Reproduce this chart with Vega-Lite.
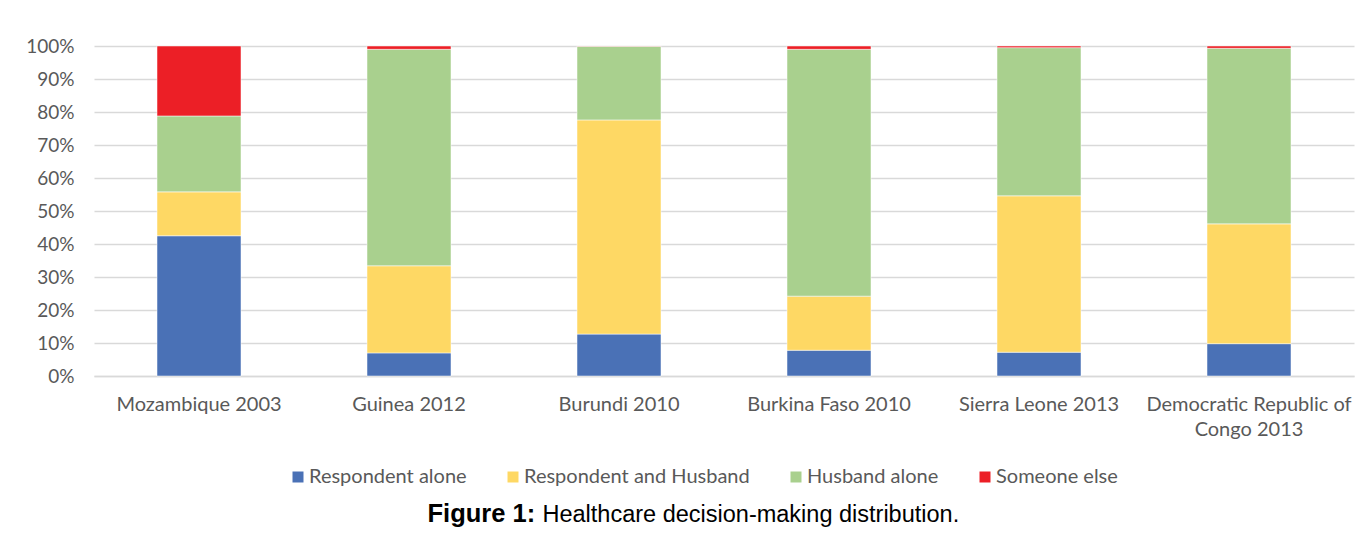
{
  "$schema": "https://vega.github.io/schema/vega-lite/v6.json",
  "width": 1260,
  "height": 330,
  "autosize": "none",
  "padding": {"left": 94, "top": 46, "right": 8, "bottom": 159},
  "background": "white",
  "config": {"font": "Lato", "view": {"stroke": null}},
  "data": {
    "values": [
      {"country": "Mozambique 2003", "decision": "Respondent alone", "pct": 42.5},
      {"country": "Mozambique 2003", "decision": "Respondent and Husband", "pct": 13.3},
      {"country": "Mozambique 2003", "decision": "Husband alone", "pct": 23.0},
      {"country": "Mozambique 2003", "decision": "Someone else", "pct": 21.2},
      {"country": "Guinea 2012", "decision": "Respondent alone", "pct": 7.0},
      {"country": "Guinea 2012", "decision": "Respondent and Husband", "pct": 26.4},
      {"country": "Guinea 2012", "decision": "Husband alone", "pct": 65.6},
      {"country": "Guinea 2012", "decision": "Someone else", "pct": 1.0},
      {"country": "Burundi 2010", "decision": "Respondent alone", "pct": 12.7},
      {"country": "Burundi 2010", "decision": "Respondent and Husband", "pct": 64.9},
      {"country": "Burundi 2010", "decision": "Husband alone", "pct": 22.3},
      {"country": "Burundi 2010", "decision": "Someone else", "pct": 0.1},
      {"country": "Burkina Faso 2010", "decision": "Respondent alone", "pct": 7.8},
      {"country": "Burkina Faso 2010", "decision": "Respondent and Husband", "pct": 16.4},
      {"country": "Burkina Faso 2010", "decision": "Husband alone", "pct": 74.8},
      {"country": "Burkina Faso 2010", "decision": "Someone else", "pct": 1.0},
      {"country": "Sierra Leone 2013", "decision": "Respondent alone", "pct": 7.2},
      {"country": "Sierra Leone 2013", "decision": "Respondent and Husband", "pct": 47.4},
      {"country": "Sierra Leone 2013", "decision": "Husband alone", "pct": 44.9},
      {"country": "Sierra Leone 2013", "decision": "Someone else", "pct": 0.5},
      {"country": "Democratic Republic of Congo 2013", "decision": "Respondent alone", "pct": 9.8},
      {"country": "Democratic Republic of Congo 2013", "decision": "Respondent and Husband", "pct": 36.3},
      {"country": "Democratic Republic of Congo 2013", "decision": "Husband alone", "pct": 53.2},
      {"country": "Democratic Republic of Congo 2013", "decision": "Someone else", "pct": 0.7}
    ]
  },
  "transform": [
    {"calculate": "indexof(['Respondent alone','Respondent and Husband','Husband alone','Someone else'], datum.decision)", "as": "stackOrder"}
  ],
  "mark": {"type": "bar", "stroke": "white", "strokeWidth": 0.5},
  "encoding": {
    "x": {
      "field": "country",
      "type": "nominal",
      "sort": null,
      "scale": {"paddingInner": 0.6, "paddingOuter": 0.3},
      "axis": {
        "title": "Healthcare decision-making distribution.",
        "titleFont": "Liberation Sans",
        "titleFontSize": 23.5,
        "titleFontWeight": "normal",
        "titleColor": "#000000",
        "titleAnchor": "start",
        "titleAlign": "left",
        "titleBaseline": "alphabetic",
        "titleX": 448,
        "titleY": 145,
        "labelAngle": 0,
        "labelFontSize": 20,
        "labelColor": "#595959",
        "labelPadding": 18,
        "labelLineHeight": 25,
        "labelLimit": 0,
        "labelExpr": "datum.label == 'Democratic Republic of Congo 2013' ? ['Democratic Republic of', 'Congo 2013'] : datum.label",
        "ticks": false,
        "domainColor": "#D9D9D9",
        "domainWidth": 1.5,
        "grid": false
      }
    },
    "y": {
      "field": "pct",
      "type": "quantitative",
      "stack": "zero",
      "scale": {"domain": [0, 100], "nice": false},
      "axis": {
        "title": "Figure 1:",
        "titleFont": "Liberation Sans",
        "titleFontSize": 25.5,
        "titleFontWeight": "bold",
        "titleColor": "#000000",
        "titleAngle": 0,
        "titleAnchor": "start",
        "titleAlign": "left",
        "titleBaseline": "alphabetic",
        "titleX": 333,
        "titleY": 475,
        "values": [0, 10, 20, 30, 40, 50, 60, 70, 80, 90, 100],
        "labelExpr": "datum.value + '%'",
        "labelFontSize": 19,
        "labelColor": "#595959",
        "labelPadding": 20,
        "ticks": false,
        "domain": false,
        "grid": true,
        "gridColor": "#D9D9D9",
        "gridWidth": 1.5
      }
    },
    "color": {
      "field": "decision",
      "type": "nominal",
      "scale": {
        "domain": ["Respondent alone", "Respondent and Husband", "Husband alone", "Someone else"],
        "range": ["#4A71B6", "#FED864", "#A9D08E", "#EC1F26"]
      },
      "legend": {
        "title": null,
        "orient": "none",
        "direction": "horizontal",
        "legendX": 194,
        "legendY": 421,
        "padding": 0,
        "symbolType": "square",
        "symbolSize": 121,
        "symbolStrokeWidth": 0,
        "labelFontSize": 20,
        "labelLimit": 0,
        "labelColor": "#595959",
        "labelOffset": 1,
        "columnPadding": 36
      }
    },
    "order": {"field": "stackOrder", "type": "quantitative"}
  }
}
